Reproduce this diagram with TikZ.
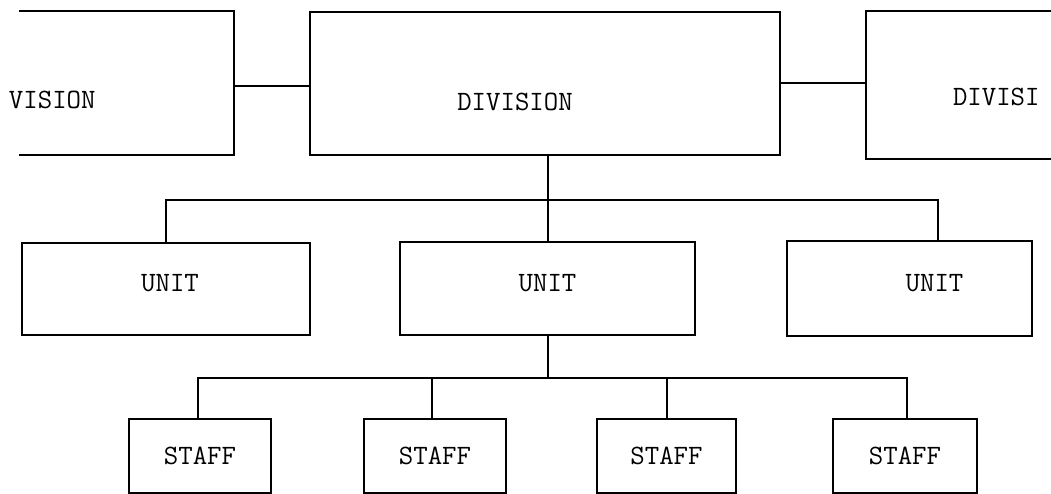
\documentclass[tikz,border=0pt]{standalone}
\usepackage{fontspec}
\begin{document}
\begin{tikzpicture}[x=1pt,y=-1pt,line width=2pt,
  every node/.style={font=\fontsize{28}{32}\selectfont\ttfamily},
  box/.style={draw,rectangle,inner sep=0pt,line width=2pt},
  open/.style={rectangle,inner sep=0pt},
  lbl/.style={inner sep=0pt}]
\useasboundingbox (0,0) rectangle (1051,494);
\clip (0,0) rectangle (1051,494);
% partial left division
\node[open,minimum width=213pt,minimum height=142pt] (ldiv) at (126.5,83) {};
\draw (ldiv.north west) -- (ldiv.north east) -- (ldiv.south east) -- (ldiv.south west);
\node[lbl,anchor=west] (ltext) at (8,100) {VISION};
% central division
\node[box,minimum width=470pt,minimum height=143pt,
  label={[lbl,xshift=-30pt,yshift=-18pt]center:DIVISION}] (div) at (545,83.5) {};
% partial right division
\node[open,minimum width=200pt,minimum height=146pt] (rdiv) at (967,85) {};
\draw (rdiv.north east) -- (rdiv.north west) -- (rdiv.south west) -- (rdiv.south east);
\node[lbl,anchor=west] (rtext) at (952,97) {DIVISI};
% links between divisions
\draw ([yshift=-3pt]ldiv.east) -- ([yshift=-3pt]ldiv.east -| div.west);
\draw (div.east) -- (div.east -| rdiv.west);
% units
\node[box,minimum width=288pt,minimum height=92pt,
  label={[lbl,xshift=4pt,yshift=6pt]center:UNIT}] (u1) at (166,289) {};
\node[box,minimum width=295pt,minimum height=93pt,
  label={[lbl,yshift=5pt]center:UNIT}] (u2) at (547.5,288.5) {};
\node[box,minimum width=245pt,minimum height=95pt,
  label={[lbl,xshift=25pt,yshift=5pt]center:UNIT}] (u3) at (909.5,288.5) {};
\coordinate (bus1) at (547.5,200);
\draw (u2.north |- div.south) -- (u2.north);
\draw (u1.north) |- (bus1) -| ([xshift=28pt]u3.north);
% staff
\node[box,minimum width=142pt,minimum height=74pt] (s1) at (200,456) {STAFF};
\node[box,minimum width=142pt,minimum height=74pt] (s2) at (435,456) {STAFF};
\node[box,minimum width=139pt,minimum height=74pt] (s3) at (666.5,456) {STAFF};
\node[box,minimum width=144pt,minimum height=74pt] (s4) at (905,456) {STAFF};
\coordinate (bus2) at (547.5,378);
\draw (u2.south) -- (bus2);
\draw ([xshift=-2pt]s1.north) |- (bus2) -| ([xshift=2pt]s4.north);
\draw ([xshift=-3pt]s2.north) -- ([xshift=-3pt]s2.north |- bus2);
\draw (s3.north) -- (s3.north |- bus2);
\end{tikzpicture}
\end{document}
